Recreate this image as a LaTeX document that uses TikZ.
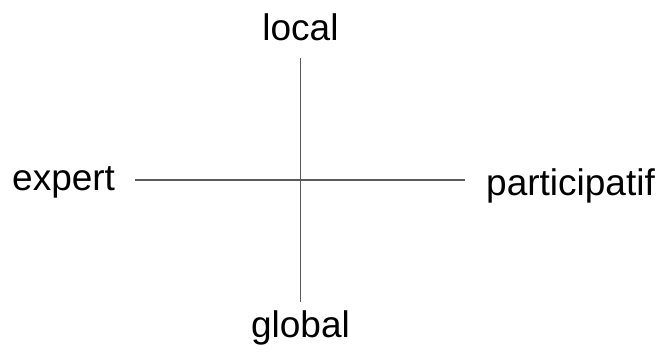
\documentclass[tikz,border=0pt]{standalone}
\usepackage{fontspec}
\setmainfont{Liberation Sans}
\begin{document}
\begin{tikzpicture}[x=1pt,y=-1pt,
  axis/.style={draw=black!65,line width=1.2pt},
  lbl/.style={font=\fontsize{37}{44}\selectfont,inner sep=0pt,text=black}]
\useasboundingbox (0,0) rectangle (657,353);
\coordinate (top) at (300.5,58);
\coordinate (bot) at (300.5,302);
\coordinate (left) at (135,180);
\coordinate (right) at (465,180);
\draw[axis] (top) -- (bot);
\draw[axis] (left) -- (right);
\node[lbl,anchor=base] (local) at (300.5,41) {local};
\node[lbl,anchor=base] (global) at (300.5,337) {global};
\node[lbl,anchor=base west] (expert) at (12,190) {expert};
\node[lbl,anchor=base west] (part) at (486,196) {participatif};
\end{tikzpicture}
\end{document}
